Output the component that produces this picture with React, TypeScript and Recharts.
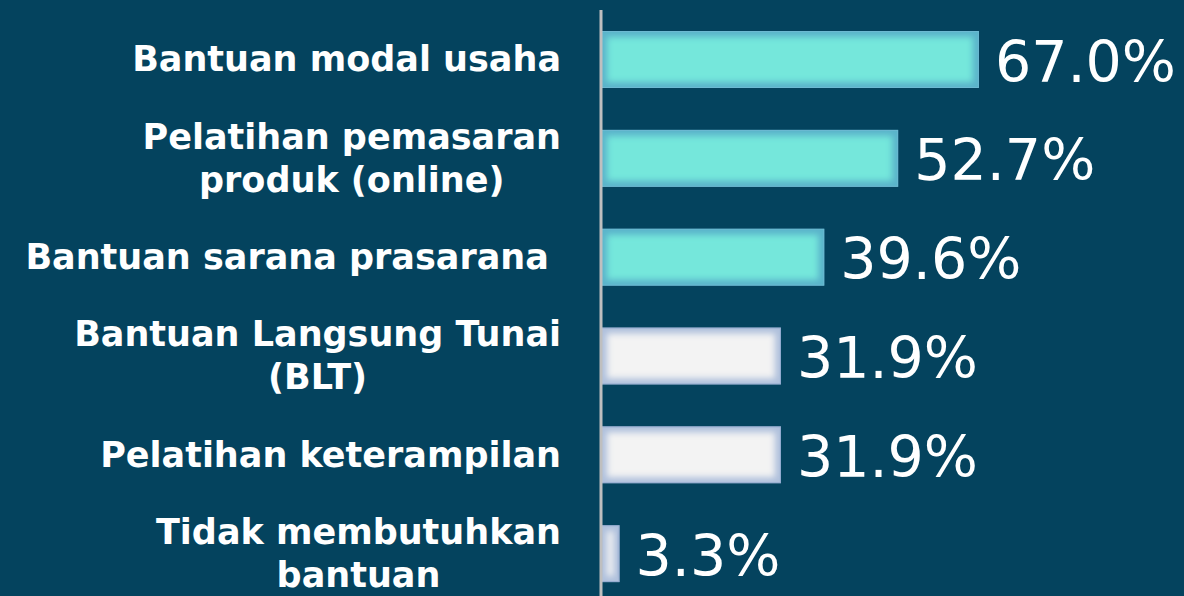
import React from 'react';
import { BarChart, Bar, XAxis, YAxis, LabelList } from 'recharts';

// survey answers, top to bottom as drawn
const categories = [
  'Bantuan modal usaha',
  'Pelatihan pemasaran\nproduk (online)',
  'Bantuan sarana prasarana ',
  'Bantuan Langsung Tunai\n(BLT)',
  'Pelatihan keterampilan',
  'Tidak membutuhkan\nbantuan',
];
const shares = [67.0, 52.7, 39.6, 31.9, 31.9, 3.3];
const tones = ['teal', 'teal', 'teal', 'light', 'light', 'light'];

const palette: Record<string, { core: string; edge: string; border: string }> = {
  teal: { core: '#74E7DB', edge: '#5AB3CA', border: '#6DB9D2' },
  light: { core: '#F3F3F3', edge: '#AFC0DC', border: '#93ABCF' },
};

const BG = '#04435E';
const LABEL_FONT = "'DejaVu Sans', Verdana, sans-serif";

const rows = categories.map((name, i) => ({ name, value: shares[i], tone: tones[i] }));

let ctx: CanvasRenderingContext2D | null = null;
const measure = (text: string, font: string) => {
  if (!ctx) ctx = document.createElement('canvas').getContext('2d');
  if (!ctx) return text.length * 20;
  ctx.font = font;
  return ctx.measureText(text).width;
};

const GlowBar = (props: any) => {
  const { x, y, width, height, payload, index } = props;
  if (!width || width <= 0) return null;
  const p = palette[payload?.tone ?? 'light'];
  const clipId = `bar-clip-${index}`;
  const filterId = `bar-blur-${index}`;
  const inset = Math.min(6, width / 3);
  return (
    <g>
      <defs>
        <clipPath id={clipId}>
          <rect x={x} y={y} width={width} height={height} />
        </clipPath>
        <filter id={filterId} x="-50%" y="-50%" width="200%" height="200%">
          <feGaussianBlur stdDeviation={3} />
        </filter>
      </defs>
      <g clipPath={`url(#${clipId})`}>
        <rect x={x} y={y} width={width} height={height} fill={p.edge} />
        <rect
          x={x + inset}
          y={y + inset}
          width={Math.max(0, width - 2 * inset)}
          height={height - 2 * inset}
          fill={p.core}
          filter={`url(#${filterId})`}
        />
      </g>
      <rect x={x + 0.5} y={y + 0.5} width={width - 1} height={height - 1} fill="none" stroke={p.border} strokeWidth={1} />
    </g>
  );
};

const ValueLabel = (props: any) => {
  const { x, y, width, height, value } = props;
  return (
    <text
      x={Number(x) + Number(width) + 16}
      y={Number(y) + Number(height) / 2 + 2}
      dominantBaseline="central"
      fill="#FFFFFF"
      fontSize={57}
      fontFamily={LABEL_FONT}
    >
      {Number(value).toFixed(1)}%
    </text>
  );
};

const CategoryTick = (props: any) => {
  const { x, y, payload } = props;
  const size = 35;
  const font = `bold ${size}px ${LABEL_FONT}`;
  const lines = String(payload.value).split('\n');
  const widest = Math.max(...lines.map((l) => measure(l, font)));
  const right = Number(x) - 40;
  const cx = right - widest / 2;
  return (
    <g>
      {lines.map((line, i) => (
        <text
          key={i}
          x={lines.length > 1 ? cx : right}
          y={Number(y) + (i - (lines.length - 1) / 2) * 43}
          textAnchor={lines.length > 1 ? 'middle' : 'end'}
          dominantBaseline="central"
          fill="#FFFFFF"
          fontSize={size}
          fontWeight="bold"
          fontFamily={LABEL_FONT}
          style={{ whiteSpace: 'pre' }}
        >
          {line}
        </text>
      ))}
    </g>
  );
};

export default function App() {
  return (
    <div style={{ position: 'fixed', left: 0, top: 0, width: 1184, height: 596, overflow: 'hidden', background: BG }}>
      <BarChart
        width={1184}
        height={610}
        data={rows}
        layout="vertical"
        margin={{ top: 10, right: 19, bottom: 7, left: 0 }}
        barSize={57}
      >
        <XAxis type="number" domain={[0, 100]} hide />
        <YAxis
          type="category"
          dataKey="name"
          width={601}
          axisLine={{ stroke: '#BFBFBF', strokeWidth: 3 }}
          tickLine={false}
          tickSize={0}
          tickMargin={0}
          tick={<CategoryTick />}
          interval={0}
        />
        <Bar dataKey="value" shape={<GlowBar />} isAnimationActive={false}>
          <LabelList dataKey="value" content={<ValueLabel />} />
        </Bar>
      </BarChart>
    </div>
  );
}
